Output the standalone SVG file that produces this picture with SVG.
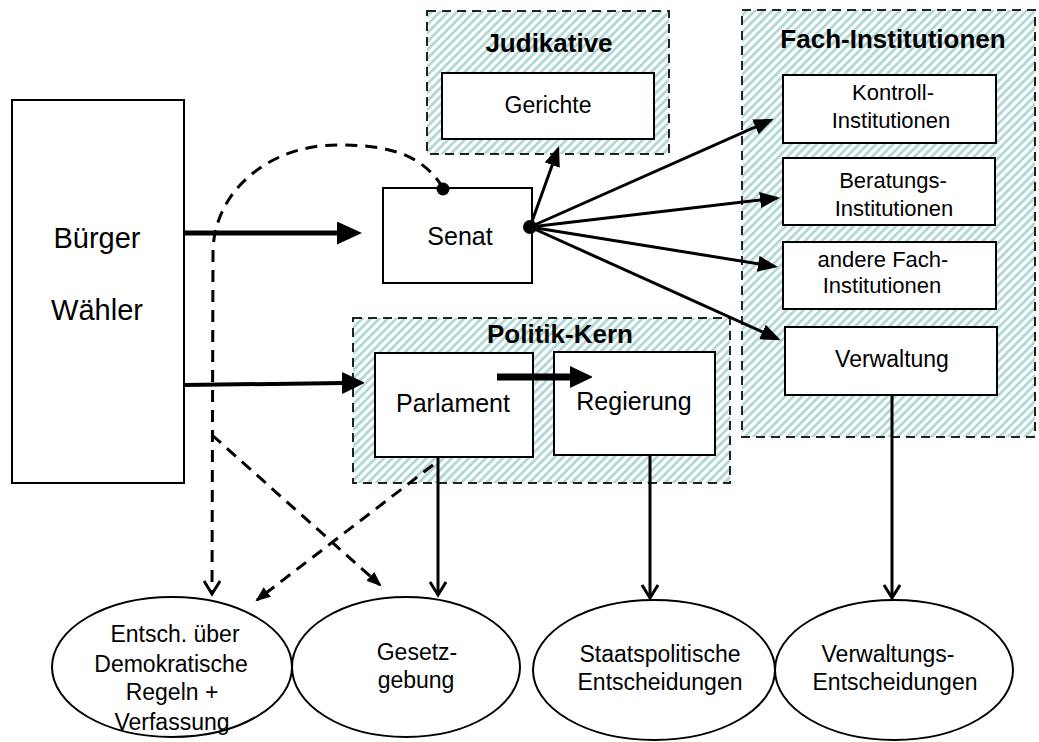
<svg xmlns="http://www.w3.org/2000/svg" width="1039" height="742" viewBox="0 0 1039 742">
<defs>
<pattern id="hatch" width="6" height="6" patternUnits="userSpaceOnUse" patternTransform="rotate(45)">
<rect width="6" height="6" fill="#ffffff"/>
<line x1="1.5" y1="0" x2="1.5" y2="6" stroke="#a9d5d2" stroke-width="2.6"/>
</pattern>
<marker id="bigArrow" markerUnits="userSpaceOnUse" markerWidth="26" markerHeight="24" refX="3" refY="11.5" orient="auto">
<path d="M0,0 L25,11.5 L0,23 Z" fill="#000"/>
</marker>
<marker id="midArrow" markerUnits="userSpaceOnUse" markerWidth="22" markerHeight="22" refX="3" refY="11" orient="auto">
<path d="M0,0 L23,11 L0,22 Z" fill="#000"/>
</marker>
<marker id="senArrow" markerUnits="userSpaceOnUse" markerWidth="22" markerHeight="18" refX="17" refY="8" orient="auto">
<path d="M0,0 L20,8 L0,16 Z" fill="#000"/>
</marker>
<marker id="openV" markerUnits="userSpaceOnUse" markerWidth="18" markerHeight="22" refX="14" refY="9" orient="auto">
<path d="M1,1 L14,9 L1,17" fill="none" stroke="#000" stroke-width="3"/>
</marker>
<marker id="smallArrow" markerUnits="userSpaceOnUse" markerWidth="16" markerHeight="14" refX="13" refY="6" orient="auto">
<path d="M0,0 L15,6 L0,12 Z" fill="#000"/>
</marker>
</defs>
<style>
.container{fill:url(#hatch);stroke:#222;stroke-width:2;stroke-dasharray:9 6;}
.box{fill:#fff;stroke:#000;stroke-width:2;}
.ell{fill:#fff;stroke:#000;stroke-width:2;}
text{font-family:"Liberation Sans",Arial,sans-serif;fill:#000;text-anchor:middle;}
.title{font-weight:bold;font-size:26px;}
.lbl{font-size:25px;}
.sm{font-size:22px;}
.el{font-size:23px;}
.solid{fill:none;stroke:#000;}
.dash{fill:none;stroke:#000;stroke-width:3;stroke-dasharray:12 8;}
</style>
<rect width="1039" height="742" fill="#fff"/>

<g id="buerger">
<rect class="box" x="12" y="100" width="172" height="383"/>
<text x="97" y="248" style="font-size:29px">Bürger</text>
<text x="97" y="320" style="font-size:29px">Wähler</text>
</g>

<g id="judikative">
<rect class="container" x="427" y="11" width="242" height="143"/>
<text class="title" x="549" y="52">Judikative</text>
</g>
<g id="gerichte">
<rect class="box" x="442" y="73" width="212" height="66"/>
<text x="548" y="113" style="font-size:23px">Gerichte</text>
</g>

<g id="fach-institutionen">
<rect class="container" x="742" y="10" width="293" height="427"/>
<text class="title" x="893" y="48">Fach-Institutionen</text>
</g>
<g id="kontroll">
<rect class="box" x="783" y="75" width="213" height="68"/>
<text class="sm" x="893" y="100">Kontroll-</text>
<text class="sm" x="891" y="128">Institutionen</text>
</g>
<g id="beratungs">
<rect class="box" x="783" y="158" width="212" height="67"/>
<text class="sm" x="893" y="188">Beratungs-</text>
<text class="sm" x="894" y="216">Institutionen</text>
</g>
<g id="andere">
<rect class="box" x="783" y="242" width="213" height="67"/>
<text class="sm" x="883" y="267">andere Fach-</text>
<text class="sm" x="882" y="293">Institutionen</text>
</g>
<g id="verwaltung">
<rect class="box" x="785" y="327" width="212" height="68"/>
<text x="892" y="367" style="font-size:23px">Verwaltung</text>
</g>

<g id="senat">
<rect class="box" x="383" y="188" width="149" height="95"/>
<text class="lbl" x="460" y="245">Senat</text>
</g>

<g id="politik-kern">
<rect class="container" x="353" y="318" width="377" height="165"/>
<text class="title" x="560" y="343">Politik-Kern</text>
</g>
<g id="parlament">
<rect class="box" x="375" y="353" width="158" height="104"/>
<text class="lbl" x="453" y="412">Parlament</text>
</g>
<g id="regierung">
<rect class="box" x="554" y="352" width="161" height="103"/>
<text class="lbl" x="634" y="410">Regierung</text>
</g>

<g id="e-demokratie">
<ellipse class="ell" cx="172" cy="667" rx="120" ry="70"/>
<text class="el" x="175" y="642">Entsch. über</text>
<text class="el" x="171" y="672">Demokratische</text>
<text class="el" x="172" y="700">Regeln +</text>
<text class="el" x="172" y="730">Verfassung</text>
</g>
<g id="e-gesetzgebung">
<ellipse class="ell" cx="406" cy="667" rx="114" ry="70"/>
<text class="el" x="417" y="660">Gesetz-</text>
<text class="el" x="416" y="688">gebung</text>
</g>
<g id="e-staatspolitisch">
<ellipse class="ell" cx="654" cy="670" rx="121" ry="70"/>
<text class="el" x="660" y="662">Staatspolitische</text>
<text class="el" x="660" y="690">Entscheidungen</text>
</g>
<g id="e-verwaltung">
<ellipse class="ell" cx="894" cy="670" rx="119" ry="70"/>
<text class="el" x="888" y="662">Verwaltungs-</text>
<text class="el" x="895" y="690">Entscheidungen</text>
</g>

<g id="connectors">
<line class="solid" x1="184" y1="233" x2="340" y2="233" stroke-width="5" marker-end="url(#bigArrow)"/>
<line class="solid" x1="184" y1="385" x2="345" y2="383" stroke-width="4" marker-end="url(#midArrow)"/>
<line class="solid" x1="497" y1="377" x2="573" y2="377" stroke-width="7" marker-end="url(#midArrow)"/>
<line class="solid" x1="530" y1="227" x2="558" y2="149" stroke-width="3" marker-end="url(#senArrow)"/>
<line class="solid" x1="530" y1="227" x2="771" y2="120" stroke-width="3" marker-end="url(#senArrow)"/>
<line class="solid" x1="530" y1="227" x2="777" y2="198" stroke-width="3" marker-end="url(#senArrow)"/>
<line class="solid" x1="530" y1="227" x2="775" y2="266.5" stroke-width="3" marker-end="url(#senArrow)"/>
<line class="solid" x1="530" y1="227" x2="778" y2="339" stroke-width="3" marker-end="url(#senArrow)"/>
<circle cx="530" cy="227" r="7" fill="#000"/>
<circle cx="443" cy="189" r="6.5" fill="#000"/>
<path class="dash" d="M443,188 C420,150 380,145 337,145 C270,145 215,190 213,250 L212,594" marker-end="url(#openV)"/>
<line class="dash" x1="212" y1="435" x2="380" y2="585" marker-end="url(#smallArrow)"/>
<line class="dash" x1="433" y1="465" x2="257" y2="600" marker-end="url(#smallArrow)"/>
<line class="solid" x1="438" y1="457" x2="438" y2="595" stroke-width="3" marker-end="url(#openV)"/>
<line class="solid" x1="650" y1="455" x2="650" y2="598" stroke-width="3" marker-end="url(#openV)"/>
<line class="solid" x1="892" y1="395" x2="892" y2="598" stroke-width="3" marker-end="url(#openV)"/>
</g>
</svg>
